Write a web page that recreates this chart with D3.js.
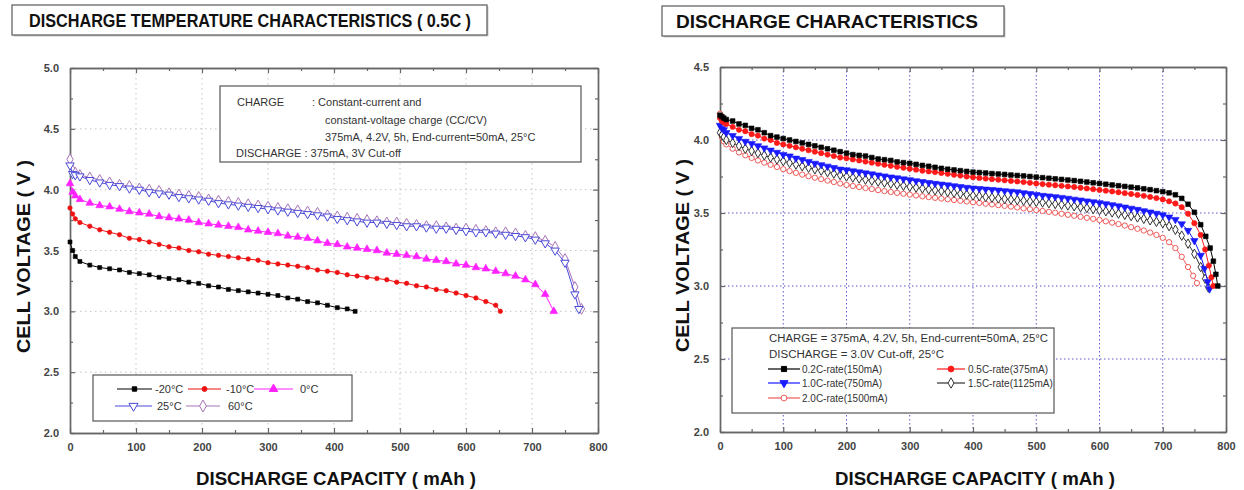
<!DOCTYPE html>
<html>
<head>
<meta charset="utf-8">
<script src="https://cdn.jsdelivr.net/npm/d3@7/dist/d3.min.js"></script>
<style>
body { margin: 0; background: #fff; }
svg { display: block; font-family: "Liberation Sans", Arial, sans-serif; }
</style>
</head>
<body>
<div id="chart"></div>
<script>
// ---------- shared axis ticks ----------
const capTicks = [0, 100, 200, 300, 400, 500, 600, 700, 800];
const capMinor = [50, 150, 250, 350, 450, 550, 650, 750];
const voltTicksLeft = [2.0, 2.5, 3.0, 3.5, 4.0, 4.5, 5.0];
const voltMinorLeft = [2.25, 2.75, 3.25, 3.75, 4.25, 4.75];
const voltTicksRight = [2.0, 2.5, 3.0, 3.5, 4.0, 4.5];
const voltMinorRight = [2.25, 2.75, 3.25, 3.75, 4.25];

// ---------- left chart: discharge temperature (0.5C) ----------
const tempLabels = ["-20°C", "-10°C", "0°C", "25°C", "60°C"];
const capLeft = [0, 4, 8, 15, 30, 45, 60, 75, 90, 105, 120, 135, 150, 165, 180, 195, 210, 225, 240, 255,
    270, 285, 300, 315, 330, 345, 360, 375, 390, 405, 420, 435, 450, 465, 480, 495, 510, 525, 540, 555,
    570, 585, 600, 615, 630, 645, 660, 675, 690, 705, 720, 735, 750, 765];
const voltM20 = [3.57, 3.50, 3.45, 3.41, 3.38, 3.36, 3.35, 3.34, 3.32, 3.31, 3.30, 3.28, 3.27, 3.26, 3.24,
    3.23, 3.21, 3.20, 3.18, 3.17, 3.16, 3.15, 3.14, 3.13, 3.11, 3.10, 3.08, 3.07, 3.05, 3.03, 3.02];
const tailM20 = [[432, 3.00]];
const voltM10 = [3.85, 3.80, 3.76, 3.73, 3.70, 3.67, 3.65, 3.63, 3.60, 3.59, 3.57, 3.55, 3.53, 3.52, 3.50,
    3.49, 3.47, 3.46, 3.45, 3.44, 3.43, 3.42, 3.40, 3.39, 3.38, 3.37, 3.36, 3.34, 3.33, 3.32, 3.30, 3.29,
    3.28, 3.27, 3.26, 3.24, 3.23, 3.21, 3.20, 3.18, 3.17, 3.15, 3.13, 3.11, 3.08, 3.05];
const tailM10 = [[652, 3.00]];
const volt0 = [4.05, 3.98, 3.95, 3.92, 3.89, 3.87, 3.86, 3.84, 3.82, 3.81, 3.80, 3.78, 3.77, 3.76, 3.75,
    3.73, 3.72, 3.71, 3.70, 3.69, 3.67, 3.66, 3.65, 3.64, 3.62, 3.61, 3.60, 3.58, 3.56, 3.55, 3.53, 3.52,
    3.51, 3.50, 3.48, 3.47, 3.46, 3.45, 3.43, 3.42, 3.41, 3.39, 3.38, 3.36, 3.35, 3.33, 3.31, 3.29, 3.26,
    3.22, 3.14];
const tail0 = [[733, 3.00]];
const volt25 = [4.20, 4.13, 4.12, 4.11, 4.08, 4.06, 4.04, 4.03, 4.01, 4.00, 3.98, 3.97, 3.96, 3.94, 3.93,
    3.92, 3.91, 3.89, 3.88, 3.87, 3.86, 3.85, 3.84, 3.83, 3.82, 3.81, 3.80, 3.79, 3.78, 3.76, 3.75, 3.74,
    3.73, 3.73, 3.72, 3.71, 3.70, 3.70, 3.69, 3.68, 3.68, 3.67, 3.66, 3.65, 3.65, 3.64, 3.63, 3.62, 3.61,
    3.59, 3.56, 3.50, 3.40, 3.14];
const tail25 = [[771, 3.02]];
const volt60 = [4.25, 4.16, 4.14, 4.12, 4.10, 4.08, 4.06, 4.04, 4.03, 4.01, 4.00, 3.99, 3.97, 3.96, 3.95,
    3.94, 3.92, 3.91, 3.90, 3.89, 3.88, 3.87, 3.86, 3.85, 3.84, 3.83, 3.82, 3.81, 3.79, 3.78, 3.77, 3.76,
    3.75, 3.74, 3.73, 3.73, 3.72, 3.71, 3.70, 3.70, 3.69, 3.68, 3.68, 3.67, 3.66, 3.65, 3.65, 3.64, 3.62,
    3.61, 3.58, 3.53, 3.43, 3.20];
const tail60 = [[775, 3.02]];

// ---------- right chart: discharge rate ----------
const rateLabels = ["0.2C-rate(150mA)", "0.5C-rate(375mA)", "1.0C-rate(750mA)", "1.5C-rate(1125mA)", "2.0C-rate(1500mA)"];
const capRight = [0, 3, 6, 10, 20, 30, 40, 50, 60, 70, 80, 90, 100, 110, 120, 130, 140, 150, 160, 170, 180,
    190, 200, 210, 220, 230, 240, 250, 260, 270, 280, 290, 300, 310, 320, 330, 340, 350, 360, 370, 380,
    390, 400, 410, 420, 430, 440, 450, 460, 470, 480, 490, 500, 510, 520, 530, 540, 550, 560, 570, 580,
    590, 600, 610, 620, 630, 640, 650, 660, 670, 680, 690, 700];
const voltR02 = [4.17, 4.16, 4.15,
    4.14, 4.13, 4.11, 4.10, 4.08, 4.07, 4.05, 4.03, 4.02, 4.01,
    4.00, 3.99, 3.98, 3.97, 3.96, 3.95, 3.94, 3.93, 3.92, 3.91,
    3.90, 3.895, 3.89, 3.88, 3.87, 3.865, 3.86, 3.85, 3.845, 3.84,
    3.833, 3.826, 3.82, 3.813, 3.806, 3.80, 3.795, 3.79, 3.785, 3.78,
    3.777, 3.774, 3.77, 3.767, 3.764, 3.76, 3.757, 3.754, 3.75, 3.746,
    3.742, 3.738, 3.734, 3.73, 3.726, 3.722, 3.717, 3.712, 3.707, 3.702,
    3.697, 3.692, 3.687, 3.682, 3.677, 3.672, 3.666, 3.66, 3.653, 3.646];
const tailR02 = [[710, 3.638], [720, 3.625], [730, 3.60], [740, 3.56], [750, 3.505], [760, 3.42],
    [768, 3.34], [775, 3.26], [780, 3.17], [784, 3.08], [787, 3.00]];
const voltR05 = [4.15, 4.13, 4.12,
    4.11, 4.09, 4.07, 4.06, 4.04, 4.03, 4.01, 4.00, 3.98, 3.97,
    3.96, 3.95, 3.94, 3.93, 3.92, 3.91, 3.90, 3.89, 3.88, 3.875,
    3.867, 3.86, 3.852, 3.845, 3.838, 3.83, 3.823, 3.816, 3.81, 3.803,
    3.797, 3.79, 3.785, 3.78, 3.774, 3.768, 3.762, 3.756, 3.75, 3.745,
    3.74, 3.736, 3.732, 3.728, 3.724, 3.72, 3.716, 3.712, 3.707, 3.702,
    3.698, 3.694, 3.69, 3.686, 3.682, 3.678, 3.673, 3.668, 3.663, 3.658,
    3.653, 3.648, 3.642, 3.636, 3.63, 3.624, 3.618, 3.61, 3.602, 3.593];
const tailR05 = [[710, 3.58], [720, 3.565], [730, 3.54], [740, 3.495], [750, 3.43], [760, 3.35],
    [767, 3.25], [773, 3.14], [777, 3.06], [780, 3.00]];
const voltR10 = [4.10, 4.08, 4.07,
    4.05, 4.03, 4.01, 3.99, 3.975, 3.96, 3.945, 3.93, 3.915, 3.90,
    3.89, 3.875, 3.865, 3.852, 3.84, 3.83, 3.82, 3.81, 3.80, 3.795,
    3.788, 3.781, 3.774, 3.767, 3.76, 3.753, 3.746, 3.74, 3.733, 3.727,
    3.72, 3.714, 3.708, 3.702, 3.697, 3.692, 3.686, 3.68, 3.675, 3.67,
    3.667, 3.663, 3.66, 3.656, 3.652, 3.648, 3.644, 3.638, 3.632, 3.626,
    3.62, 3.616, 3.611, 3.606, 3.60, 3.594, 3.588, 3.582, 3.576, 3.57,
    3.563, 3.556, 3.548, 3.54, 3.532, 3.524, 3.515, 3.506, 3.497, 3.487];
const tailR10 = [[710, 3.472], [720, 3.455], [730, 3.425], [740, 3.38], [750, 3.31], [760, 3.21],
    [766, 3.12], [771, 3.03], [774, 2.98]];
const voltR15 = [4.05, 4.035, 4.02,
    4.00, 3.98, 3.96, 3.94, 3.925, 3.91, 3.895, 3.88, 3.867, 3.855,
    3.843, 3.832, 3.82, 3.81, 3.80, 3.79, 3.78, 3.77, 3.76, 3.75,
    3.743, 3.736, 3.729, 3.722, 3.715, 3.708, 3.701, 3.694, 3.687, 3.68,
    3.674, 3.668, 3.662, 3.656, 3.65, 3.644, 3.638, 3.632, 3.626, 3.62,
    3.615, 3.61, 3.605, 3.60, 3.596, 3.592, 3.588, 3.584, 3.58, 3.576,
    3.572, 3.567, 3.562, 3.557, 3.552, 3.546, 3.54, 3.534, 3.527, 3.52,
    3.512, 3.504, 3.496, 3.488, 3.479, 3.47, 3.46, 3.45, 3.44, 3.43];
const tailR15 = [[710, 3.41], [720, 3.385], [730, 3.345], [740, 3.29], [750, 3.22], [760, 3.13],
    [767, 3.05], [772, 2.99]];
const voltR20 = [4.18, 4.02, 3.99,
    3.97, 3.94, 3.915, 3.895, 3.877, 3.86, 3.845, 3.83, 3.815, 3.80,
    3.787, 3.775, 3.763, 3.752, 3.742, 3.732, 3.722, 3.712, 3.702, 3.692,
    3.685, 3.678, 3.671, 3.664, 3.657, 3.65, 3.644, 3.638, 3.632, 3.626,
    3.62, 3.614, 3.609, 3.604, 3.599, 3.594, 3.589, 3.584, 3.579, 3.574,
    3.569, 3.564, 3.559, 3.554, 3.549, 3.544, 3.538, 3.532, 3.526, 3.52,
    3.514, 3.508, 3.502, 3.495, 3.488, 3.481, 3.474, 3.467, 3.46, 3.452,
    3.443, 3.434, 3.424, 3.414, 3.403, 3.392, 3.38, 3.366, 3.35, 3.33];
const tailR20 = [[710, 3.30], [720, 3.26], [730, 3.20], [740, 3.13], [748, 3.07], [754, 3.02]];

// ---------- text blocks ----------
const leftNote = [
    {x: 237, y: 106, t: "CHARGE"},
    {x: 312, y: 106, t: ": Constant-current and"},
    {x: 325, y: 123.5, t: "constant-voltage charge (CC/CV)"},
    {x: 325, y: 141, t: "375mA, 4.2V, 5h, End-current=50mA, 25°C"},
    {x: 236, y: 157, t: "DISCHARGE : 375mA, 3V Cut-off"}
];
const rightNote = ["CHARGE = 375mA, 4.2V, 5h, End-current=50mA, 25°C", "DISCHARGE = 3.0V Cut-off, 25°C"];

function pairs(caps, volts, tail) {
    return volts.map(function(v, i) { return [caps[i], v]; }).concat(tail);
}

let svg = d3.select("#chart").append("svg")
    .attr("width", 1244)
    .attr("height", 490);

svg.append("rect").attr("width", 1244).attr("height", 490).attr("fill", "#fff");

function titleBox(x, y, w, h, text, tx, tlen) {
    svg.append("rect")
        .attr("x", x + 1.5).attr("y", y + 1.5).attr("width", w).attr("height", h)
        .attr("fill", "#c9c9c9");
    svg.append("rect")
        .attr("x", x).attr("y", y).attr("width", w).attr("height", h)
        .attr("fill", "#fff").attr("stroke", "#666").attr("stroke-width", 1.3);
    svg.append("text")
        .attr("x", tx).attr("y", y + h / 2 + 6.5)
        .attr("font-size", "18px").attr("font-weight", "bold").attr("fill", "#111")
        .attr("textLength", tlen).attr("lengthAdjust", "spacingAndGlyphs")
        .text(text);
}

function drawPanel(cfg) {
    let x = d3.scaleLinear().domain([0, 800]).range([cfg.left, cfg.right]);
    let y = d3.scaleLinear().domain(cfg.yDomain).range([cfg.bottom, cfg.top]);
    let g = svg.append("g");

    // grid
    g.append("g").selectAll("line")
        .data(capTicks.slice(1, -1))
        .enter().append("line")
        .attr("x1", function(d) { return x(d); }).attr("x2", function(d) { return x(d); })
        .attr("y1", cfg.top).attr("y2", cfg.bottom)
        .attr("stroke", cfg.gridColor).attr("stroke-width", 1)
        .attr("stroke-dasharray", cfg.gridDash);
    g.append("g").selectAll("line")
        .data(cfg.yTicks.slice(1, -1))
        .enter().append("line")
        .attr("y1", function(d) { return y(d); }).attr("y2", function(d) { return y(d); })
        .attr("x1", cfg.left).attr("x2", cfg.right)
        .attr("stroke", cfg.gridColor).attr("stroke-width", 1)
        .attr("stroke-dasharray", cfg.gridDash);

    // axes with inward ticks on all four sides
    let axes = [
        {a: d3.axisBottom(x).tickValues(capTicks).tickSize(-5).tickPadding(10).tickFormat(d3.format("d")), t: "translate(0," + cfg.bottom + ")"},
        {a: d3.axisBottom(x).tickValues(capMinor).tickSize(-3).tickFormat(""), t: "translate(0," + cfg.bottom + ")"},
        {a: d3.axisTop(x).tickValues(capTicks).tickSize(-5).tickFormat(""), t: "translate(0," + cfg.top + ")"},
        {a: d3.axisTop(x).tickValues(capMinor).tickSize(-3).tickFormat(""), t: "translate(0," + cfg.top + ")"},
        {a: d3.axisLeft(y).tickValues(cfg.yTicks).tickSize(-5).tickPadding(11).tickFormat(d3.format(".1f")), t: "translate(" + cfg.left + ",0)"},
        {a: d3.axisLeft(y).tickValues(cfg.yMinor).tickSize(-3).tickFormat(""), t: "translate(" + cfg.left + ",0)"},
        {a: d3.axisRight(y).tickValues(cfg.yTicks).tickSize(-5).tickFormat(""), t: "translate(" + cfg.right + ",0)"},
        {a: d3.axisRight(y).tickValues(cfg.yMinor).tickSize(-3).tickFormat(""), t: "translate(" + cfg.right + ",0)"}
    ];
    axes.forEach(function(d) {
        let ax = g.append("g").attr("transform", d.t).call(d.a.tickSizeOuter(0));
        ax.select(".domain").attr("stroke", "#666").attr("stroke-width", 1.4);
        ax.selectAll(".tick line").attr("stroke", "#666").attr("stroke-width", 1.2);
        ax.selectAll(".tick text")
            .attr("font-family", "Liberation Sans, Arial, sans-serif")
            .attr("font-size", "11px").attr("font-weight", "bold").attr("fill", "#444");
    });

    // series
    cfg.series.forEach(function(s) {
        let sg = g.append("g");
        sg.append("path").datum(s.pts)
            .attr("d", d3.line().x(function(d) { return x(d[0]); }).y(function(d) { return y(d[1]); }))
            .attr("fill", "none").attr("stroke", s.color).attr("stroke-width", 1);
        sg.selectAll("path.m").data(s.pts)
            .enter().append("path").attr("class", "m")
            .attr("d", d3.symbol().type(s.symbol).size(s.size))
            .attr("transform", function(d) { return "translate(" + x(d[0]) + "," + y(d[1]) + ") rotate(" + (s.rotate || 0) + ")"; })
            .attr("fill", s.fill ? s.color : "#fff")
            .attr("stroke", s.color).attr("stroke-width", s.fill ? 0.6 : 1);
    });

    // axis titles
    svg.append("text")
        .attr("transform", "translate(" + cfg.yTitleX + "," + ((cfg.top + cfg.bottom) / 2 + 6) + ") rotate(-90)")
        .attr("text-anchor", "middle")
        .attr("font-size", "19px").attr("font-weight", "bold").attr("fill", "#111")
        .attr("textLength", 193).attr("lengthAdjust", "spacingAndGlyphs")
        .text("CELL VOLTAGE ( V )");
    svg.append("text")
        .attr("x", (cfg.left + cfg.right) / 2 + 2).attr("y", 485)
        .attr("text-anchor", "middle")
        .attr("font-size", "19px").attr("font-weight", "bold").attr("fill", "#111")
        .attr("textLength", 280).attr("lengthAdjust", "spacingAndGlyphs")
        .text("DISCHARGE CAPACITY  ( mAh )");
}

function legendEntry(x1, x2, y, s, label, tx, size) {
    svg.append("line").attr("x1", x1).attr("x2", x2).attr("y1", y).attr("y2", y)
        .attr("stroke", s.color).attr("stroke-width", 1.2);
    svg.append("path")
        .attr("d", d3.symbol().type(s.symbol).size(s.size * 1.2))
        .attr("transform", "translate(" + ((x1 + x2) / 2) + "," + y + ") rotate(" + (s.rotate || 0) + ")")
        .attr("fill", s.fill ? s.color : "#fff")
        .attr("stroke", s.color).attr("stroke-width", 1);
    svg.append("text").attr("x", tx).attr("y", y + 4)
        .attr("font-size", size).attr("fill", "#333")
        .text(label);
}

// ---------- left panel ----------
let leftStyles = [
    {color: "#000000", symbol: d3.symbolSquare, size: 16, fill: true},
    {color: "#ee1111", symbol: d3.symbolCircle, size: 16, fill: true},
    {color: "#ff22ff", symbol: d3.symbolTriangle, size: 26, fill: true},
    {color: "#4a4ad8", symbol: d3.symbolTriangle, size: 30, fill: false, rotate: 180},
    {color: "#a874b8", symbol: d3.symbolDiamond, size: 34, fill: false}
];
let leftData = [
    pairs(capLeft, voltM20, tailM20),
    pairs(capLeft, voltM10, tailM10),
    pairs(capLeft, volt0, tail0),
    pairs(capLeft, volt60, tail60),
    pairs(capLeft, volt25, tail25)
];
let leftOrder = [0, 1, 2, 4, 3];

titleBox(12, 5, 475, 30, "DISCHARGE TEMPERATURE CHARACTERISTICS ( 0.5C )", 29, 442);

drawPanel({
    left: 70, right: 598, top: 68, bottom: 433,
    yDomain: [2, 5], yTicks: voltTicksLeft, yMinor: voltMinorLeft,
    gridColor: "#c4c4c4", gridDash: "1.5,3.5", yTitleX: 30,
    series: leftOrder.map(function(k, i) {
        return Object.assign({pts: leftData[i]}, leftStyles[k]);
    })
});

// left annotation box
svg.append("rect").attr("x", 220).attr("y", 86).attr("width", 361).attr("height", 76)
    .attr("fill", "#fff").attr("stroke", "#555").attr("stroke-width", 1.2);
svg.append("g").selectAll("text").data(leftNote).enter().append("text")
    .attr("x", function(d) { return d.x; }).attr("y", function(d) { return d.y; })
    .attr("font-size", "11px").attr("fill", "#333")
    .text(function(d) { return d.t; });

// left legend
svg.append("rect").attr("x", 93).attr("y", 375).attr("width", 259).attr("height", 46)
    .attr("fill", "#fff").attr("stroke", "#555").attr("stroke-width", 1.2);
let leftLegendPos = [
    {x1: 117, x2: 152, tx: 155, y: 389},
    {x1: 188, x2: 221, tx: 226, y: 389},
    {x1: 254, x2: 293, tx: 300, y: 389},
    {x1: 115, x2: 152, tx: 157, y: 406},
    {x1: 186, x2: 220, tx: 228, y: 406}
];
leftLegendPos.forEach(function(p, i) {
    legendEntry(p.x1, p.x2, p.y, leftStyles[i], tempLabels[i], p.tx, "11px");
});

// ---------- right panel ----------
let rightStyles = [
    {color: "#000000", symbol: d3.symbolSquare, size: 22, fill: true},
    {color: "#ff1a1a", symbol: d3.symbolCircle, size: 22, fill: true},
    {color: "#1a1aff", symbol: d3.symbolTriangle, size: 24, fill: true, rotate: 180},
    {color: "#333333", symbol: d3.symbolDiamond, size: 26, fill: false},
    {color: "#f05a5a", symbol: d3.symbolCircle, size: 22, fill: false}
];
let rightData = [
    pairs(capRight, voltR02, tailR02),
    pairs(capRight, voltR05, tailR05),
    pairs(capRight, voltR10, tailR10),
    pairs(capRight, voltR15, tailR15),
    pairs(capRight, voltR20, tailR20)
];

titleBox(662, 6, 342, 30, "DISCHARGE  CHARACTERISTICS", 676, 302);

drawPanel({
    left: 720, right: 1226, top: 67, bottom: 432,
    yDomain: [2, 4.5], yTicks: voltTicksRight, yMinor: voltMinorRight,
    gridColor: "#5a5ac8", gridDash: "1.5,2.5", yTitleX: 689,
    series: [4, 3, 2, 1, 0].map(function(k) {
        return Object.assign({pts: rightData[k]}, rightStyles[k]);
    })
});

// right legend
svg.append("rect").attr("x", 732).attr("y", 328).attr("width", 322).attr("height", 85)
    .attr("fill", "#fff").attr("stroke", "#555").attr("stroke-width", 1.2);
svg.append("text").attr("x", 769).attr("y", 342)
    .attr("font-size", "10px").attr("fill", "#333")
    .attr("textLength", 279).attr("lengthAdjust", "spacingAndGlyphs")
    .text(rightNote[0]);
svg.append("text").attr("x", 769).attr("y", 358)
    .attr("font-size", "10px").attr("fill", "#333")
    .attr("textLength", 175).attr("lengthAdjust", "spacingAndGlyphs")
    .text(rightNote[1]);
let rightLegendPos = [
    {x1: 768, x2: 800, tx: 802, y: 369},
    {x1: 937, x2: 965, tx: 968, y: 369},
    {x1: 768, x2: 800, tx: 802, y: 383},
    {x1: 937, x2: 965, tx: 968, y: 383},
    {x1: 768, x2: 800, tx: 802, y: 398}
];
rightLegendPos.forEach(function(p, i) {
    legendEntry(p.x1, p.x2, p.y, rightStyles[i], rateLabels[i], p.tx, "10px");
});
</script>
</body>
</html>
